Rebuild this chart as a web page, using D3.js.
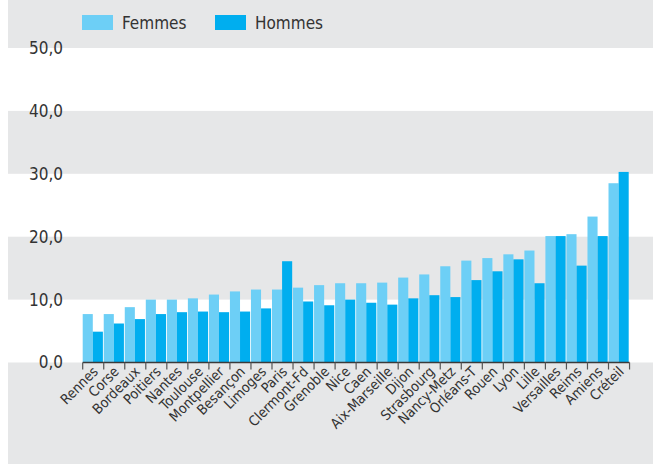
<!DOCTYPE html>
<html lang="fr">
<head>
  <meta charset="UTF-8">
  <title>Femmes / Hommes par académie</title>
  <script src="https://d3js.org/d3.v7.min.js"></script>
  <style>
    body { margin: 0; background: #fff; }
    text {
      font-family: "Liberation Sans Narrow", "DejaVu Sans Condensed", "Roboto", sans-serif;
      fill: #333;
    }
  </style>
</head>
<body>
  <script>
    // Academies, sorted as in the chart
    const categories = ["Rennes", "Corse", "Bordeaux", "Poitiers", "Nantes", "Toulouse",
      "Montpellier", "Besançon", "Limoges", "Paris", "Clermont-Fd", "Grenoble", "Nice",
      "Caen", "Aix-Marseille", "Dijon", "Strasbourg", "Nancy-Metz", "Orléans-T", "Rouen",
      "Lyon", "Lille", "Versailles", "Reims", "Amiens", "Créteil"];

    const femmes = [7.7, 7.7, 8.8, 10.0, 10.0, 10.2, 10.8, 11.3, 11.6, 11.6, 11.9, 12.3, 12.6,
      12.6, 12.7, 13.5, 14.0, 15.3, 16.2, 16.6, 17.2, 17.8, 20.1, 20.4, 23.2, 28.5];
    const hommes = [4.9, 6.2, 6.9, 7.7, 8.0, 8.1, 8.0, 8.1, 8.6, 16.1, 9.7, 9.1, 10.0,
      9.5, 9.2, 10.2, 10.7, 10.4, 13.1, 14.5, 16.4, 12.6, 20.1, 15.4, 20.1, 30.3];

    const yTicks = [0, 10, 20, 30, 40, 50];
    const series = ["Femmes", "Hommes"];
    const colors = ["#6dcff6", "#00aeef"];

    const width = 653, height = 464;
    const grey = "#e6e7e8";

    const svg = d3.select("body").append("svg")
      .attr("width", width).attr("height", height);

    const x = d3.scaleBand().domain(categories).range([82.7, 628.7]).paddingInner(0.04).paddingOuter(0);
    const xs = d3.scaleBand().domain(series).range([0, x.bandwidth()]);
    const y = d3.scaleLinear().domain([0, 50]).range([362.5, 48]);

    // background bands
    svg.append("rect").attr("x", 8).attr("y", 0).attr("width", width - 8).attr("height", y(50)).attr("fill", grey);
    svg.append("rect").attr("x", 8).attr("y", y(0)).attr("width", width - 8).attr("height", height - y(0)).attr("fill", grey);
    svg.selectAll("rect.band")
      .data([[30, 40], [10, 20]])
      .enter().append("rect")
      .attr("class", "band")
      .attr("x", 8).attr("width", width - 8)
      .attr("y", d => y(d[1]))
      .attr("height", d => y(d[0]) - y(d[1]))
      .attr("fill", grey);

    // y tick labels
    svg.selectAll("text.ytick")
      .data(yTicks)
      .enter().append("text")
      .attr("class", "ytick")
      .attr("x", 63)
      .attr("y", d => y(d))
      .attr("dy", "0.35em")
      .attr("text-anchor", "end")
      .style("font-size", "17px")
      .text(d => d3.format(".1f")(d).replace(".", ","));

    // bars
    const groups = svg.selectAll("g.cat")
      .data(categories.map((c, i) => ({ c, vals: [femmes[i], hommes[i]] })))
      .enter().append("g")
      .attr("transform", d => `translate(${x(d.c)},0)`);

    groups.selectAll("rect")
      .data(d => d.vals.map((v, j) => ({ s: series[j], v, j })))
      .enter().append("rect")
      .attr("x", d => xs(d.s))
      .attr("width", xs.bandwidth())
      .attr("y", d => y(d.v))
      .attr("height", d => y(0) - y(d.v))
      .attr("fill", d => colors[d.j]);

    // x axis line and ticks at band boundaries
    const step = x.step();
    const bounds = d3.range(categories.length + 1).map(i => x.range()[0] + i * step);
    svg.append("line")
      .attr("x1", bounds[0]).attr("x2", bounds[bounds.length - 1])
      .attr("y1", y(0)).attr("y2", y(0))
      .attr("stroke", "#3a3a3a").attr("stroke-width", 1.5);
    svg.selectAll("line.xtick")
      .data(bounds)
      .enter().append("line")
      .attr("x1", d => d).attr("x2", d => d)
      .attr("y1", y(0)).attr("y2", y(0) + 7)
      .attr("stroke", "#555").attr("stroke-width", 1.2);

    // x labels
    svg.selectAll("text.xlab")
      .data(categories)
      .enter().append("text")
      .attr("class", "xlab")
      .attr("text-anchor", "end")
      .style("font-size", "14px")
      .attr("transform", d => `translate(${x(d) + x.bandwidth() / 2 + 6},${y(0) + 10}) rotate(-45)`)
      .text(d => d);

    // legend
    const legend = svg.selectAll("g.legend")
      .data(series)
      .enter().append("g")
      .attr("transform", (d, i) => `translate(${82 + i * 133},15)`);
    legend.append("rect")
      .attr("width", 31).attr("height", 15)
      .attr("fill", (d, i) => colors[i]);
    legend.append("text")
      .attr("x", 40).attr("y", 8)
      .attr("dy", "0.35em")
      .style("font-size", "17px")
      .text(d => d);
  </script>
</body>
</html>
